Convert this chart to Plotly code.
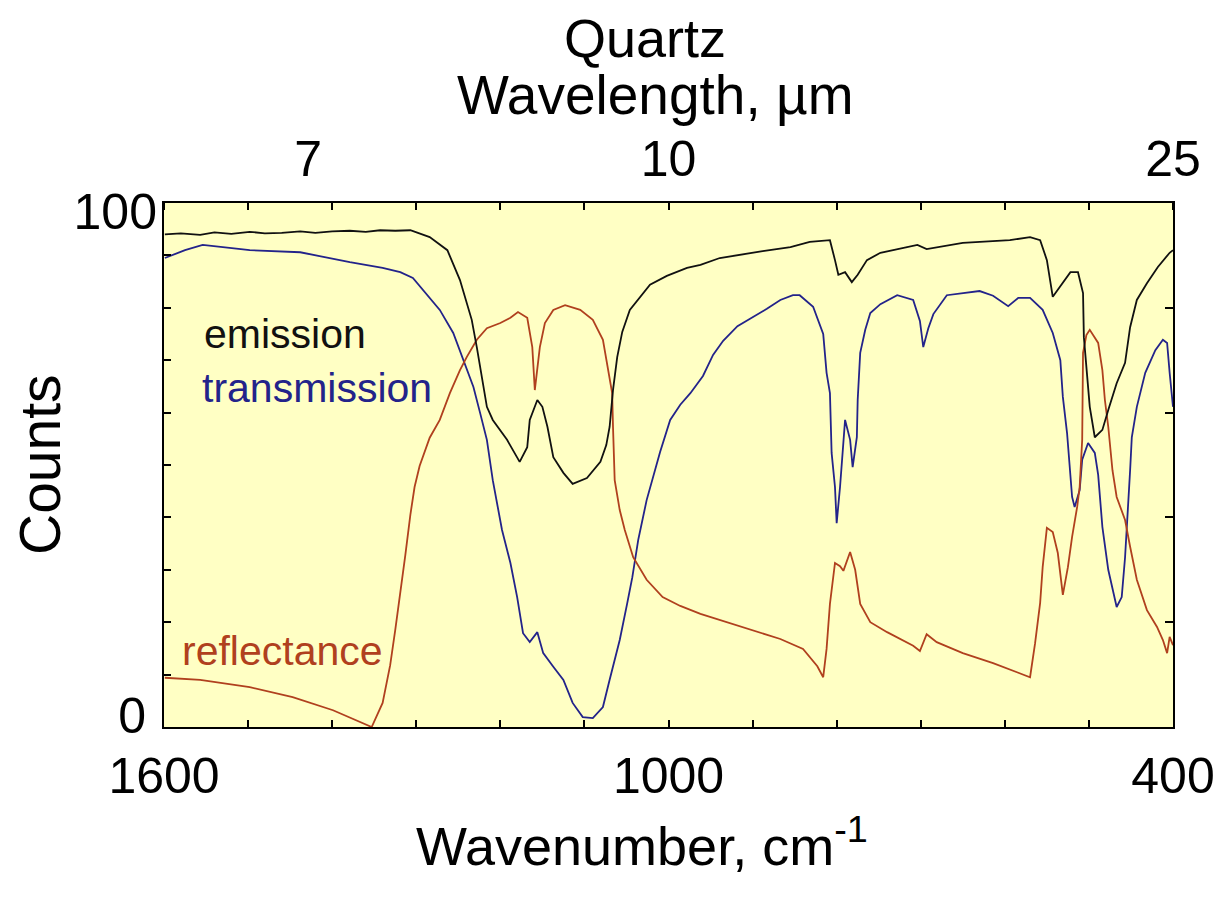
import plotly.graph_objects as go

# ---------------- data ----------------
wn_emission = [1599, 1580, 1557, 1540, 1520, 1498, 1480, 1460, 1438, 1420, 1400, 1379, 1360, 1343, 1325, 1307,
               1284, 1263, 1248, 1234, 1228, 1222, 1216, 1209, 1192, 1177, 1168, 1165, 1156, 1150, 1144, 1137,
               1125, 1114, 1097, 1081, 1074, 1070, 1066, 1061, 1055, 1046, 1034, 1022, 1002, 978, 962, 939,
               888, 855, 832, 808, 802, 798, 790, 782, 775, 764, 748, 728, 704, 693, 650, 594, 570, 558, 550,
               543, 531, 522, 513, 507, 506, 502, 499, 493, 484, 477, 467, 457, 451, 443, 431, 418, 404, 400]
emission = [94.0, 94.2, 93.9, 94.4, 94.1, 94.5, 94.2, 94.3, 94.6, 94.3, 94.6, 94.7, 94.5, 94.8, 94.7, 94.8,
            93.5, 91.0, 85.3, 77.7, 72.5, 66.6, 61.1, 58.6, 54.8, 50.6, 53.4, 58.6, 62.4, 61.1, 57.3, 51.5,
            48.5, 46.4, 47.5, 50.6, 53.8, 57.3, 64.3, 70.6, 75.4, 79.6, 82.1, 84.4, 86.1, 87.6, 88.2, 89.5,
            90.8, 91.6, 92.6, 92.9, 89.1, 86.3, 86.8, 84.9, 86.3, 89.1, 90.5, 91.2, 92.0, 91.2, 92.4, 92.9, 93.5, 92.9, 89.1,
            82.1, 84.9, 86.8, 86.8, 82.8, 74.4, 66.8, 61.1, 55.3, 56.7, 60.5, 65.6, 69.5, 76.3, 81.5, 84.7, 87.8, 90.5, 91.0]

wn_trans = [1599, 1575, 1554, 1522, 1498, 1438, 1379, 1340, 1319, 1304, 1272, 1256, 1244, 1232, 1224, 1216,
            1209, 1198, 1188, 1180, 1173, 1165, 1156, 1149, 1137, 1125, 1114, 1102, 1090, 1078, 1070, 1058,
            1049, 1043, 1036, 1026, 1010, 998, 986, 974, 959, 947, 935, 918, 903, 883, 867, 852, 844, 828,
            816, 812, 808, 806, 802, 800, 796, 794, 790, 784, 781, 776, 775, 772, 766, 760, 748, 728, 709,
            701, 697, 691, 685, 669, 650, 630, 614, 596, 584, 570, 555, 543, 534, 531, 526, 522, 520, 517,
            511, 508, 501, 493, 489, 484, 477, 467, 461, 457, 453, 451, 449, 443, 433, 421, 412, 407, 404, 400]
trans = [89.5, 91.0, 92.0, 91.4, 91.0, 90.6, 88.7, 87.6, 86.8, 85.7, 79.6, 75.2, 70.0, 64.9, 59.9, 54.8,
         47.1, 37.6, 31.3, 24.8, 17.9, 16.2, 18.1, 14.1, 11.5, 9.0, 4.6, 1.9, 1.7, 3.8, 9.0, 16.6,
         23.7, 28.6, 35.7, 43.3, 52.5, 58.6, 61.5, 63.7, 67.0, 71.0, 73.7, 76.5, 77.9, 79.8, 81.5, 82.4, 82.4, 80.2,
         75.0, 67.6, 63.7, 52.3, 45.8, 38.9, 45.8, 50.4, 58.6, 54.8, 49.6, 55.3, 62.4, 71.4, 75.8, 79.0, 80.7, 82.4, 81.5,
         77.5, 72.5, 76.1, 78.8, 82.4, 82.8, 83.2, 82.3, 80.3, 81.9, 81.9, 79.6, 75.2, 70.0, 63.0, 56.1, 49.0, 43.9, 42.0,
         45.2, 51.0, 54.2, 52.3, 48.1, 38.2, 30.0, 22.9, 24.8, 32.4, 42.7, 49.0, 55.3, 61.1, 67.6, 71.9, 73.9, 73.3, 67.6, 61.1]

wn_refl = [1599, 1557, 1498, 1447, 1399, 1367, 1353, 1340, 1331, 1325, 1319, 1313, 1307, 1302, 1296, 1284,
           1272, 1260, 1248, 1240, 1228, 1216, 1200, 1188, 1179, 1168, 1162, 1159, 1153, 1147, 1137, 1123,
           1105, 1090, 1078, 1072, 1067, 1066, 1064, 1058, 1052, 1042, 1026, 1007, 986, 962, 907, 867, 840,
           823, 816, 812, 808, 802, 796, 792, 784, 778, 772, 760, 740, 709, 701, 693, 681, 650, 614, 574,
           570, 564, 558, 555, 550, 543, 537, 531, 525, 520, 514, 511, 508, 507, 503, 499, 489, 484, 481,
           477, 472, 467, 457, 451, 443, 431, 419, 412, 407, 404, 400]
refl = [9.4, 9.0, 7.6, 5.7, 3.2, 1.0, 0.0, 4.6, 11.8, 18.5, 25.2, 32.8, 40.5, 45.8, 49.8, 55.2,
        58.6, 63.7, 68.1, 70.6, 73.9, 76.1, 77.1, 78.1, 79.2, 78.1, 72.5, 64.3, 72.5, 77.1, 79.6, 80.5,
        79.6, 77.7, 73.9, 68.7, 63.7, 57.3, 47.1, 41.4, 37.6, 32.4, 28.1, 24.8, 23.1, 21.6, 18.9, 16.8, 14.9,
        11.6, 9.5, 14.9, 23.5, 31.3, 30.7, 29.8, 33.4, 30.0, 23.5, 20.0, 18.1, 15.5, 14.5, 17.7, 16.2, 14.1, 12.2, 9.7,
        9.5, 16.0, 23.7, 30.5, 38.0, 37.2, 33.2, 25.2, 30.5, 36.3, 42.0, 45.8, 54.8, 71.4, 74.8, 75.8, 73.3, 68.1, 62.4,
        57.3, 49.0, 43.9, 39.5, 34.4, 28.1, 22.3, 19.1, 16.6, 14.1, 17.2, 15.6]

bottom_ticks = [1600, 1000, 400]
wavelength_ticks = [7, 10, 25]          # micrometres, top axis
y_low_label = 0
y_high_label = 100

# ---------------- styling ----------------
FONT = "Liberation Sans, Arial, sans-serif"
C_EM = "#111111"
C_TR = "#23238a"
C_RE = "#b0401e"
BG = "#FFFFC4"
TICKFONT = 50

fig = go.Figure()
# every trace sits on its own axis pair (all with identical ranges) so each axis is drawn
fig.add_trace(go.Scatter(x=wn_emission, y=emission, mode="lines", line=dict(color=C_EM, width=1.8),
                         name="emission", xaxis="x2", yaxis="y2"))
fig.add_trace(go.Scatter(x=wn_trans, y=trans, mode="lines", line=dict(color=C_TR, width=1.8),
                         name="transmission", xaxis="x", yaxis="y"))
fig.add_trace(go.Scatter(x=wn_refl, y=refl, mode="lines", line=dict(color=C_RE, width=1.8),
                         name="reflectance", xaxis="x", yaxis="y3"))

minor_x = list(range(400, 1601, 100))
minor_y = [10, 20, 30, 40, 50, 60, 70, 80, 90]
mid_y = [20, 40, 60, 80]

tick_style = dict(tickwidth=1.5, tickcolor="black")

fig.update_layout(
    width=1218, height=897,
    margin=dict(l=164, r=45, t=203, b=170, pad=0, autoexpand=False),
    paper_bgcolor="white", plot_bgcolor=BG,
    showlegend=False,
    font=dict(family=FONT, color="black"),
    xaxis=dict(range=[1600, 400], tickmode="array", tickvals=bottom_ticks,
               ticktext=[str(v) for v in bottom_ticks],
               ticks="inside", ticklen=7, **tick_style,
               minor=dict(tickmode="array", tickvals=minor_x, ticks="inside", ticklen=7, **tick_style),
               showline=True, linecolor="black", linewidth=2, mirror=True,
               showgrid=False, zeroline=False, automargin=False,
               tickfont=dict(size=TICKFONT, family=FONT), ticklabelstandoff=4),
    xaxis2=dict(range=[1600, 400], overlaying="x", side="top", anchor="y2",
                tickmode="array", tickvals=[1e4 / w for w in wavelength_ticks],
                ticktext=[str(w) for w in wavelength_ticks],
                ticks="",
                minor=dict(tickmode="array", tickvals=minor_x, ticks="inside", ticklen=7, **tick_style),
                showgrid=False, zeroline=False, showline=False, automargin=False,
                tickfont=dict(size=TICKFONT, family=FONT), ticklabelstandoff=16),
    yaxis=dict(range=[0, 100], tickmode="array", tickvals=[y_low_label],
               ticktext=[str(y_low_label)],
               ticks="inside", ticklen=9, **tick_style,
               minor=dict(tickmode="array", tickvals=minor_y, ticks="inside", ticklen=7, **tick_style),
               showline=True, linecolor="black", linewidth=2, mirror=True,
               showgrid=False, zeroline=False, automargin=False,
               tickfont=dict(size=TICKFONT, family=FONT), ticklabelstandoff=6, ticklabelshift=-12),
    yaxis3=dict(range=[0, 100], overlaying="y", side="left", anchor="x",
                tickmode="array", tickvals=[y_high_label], ticktext=[str(y_high_label)],
                ticks="inside", ticklen=9, **tick_style,
                showgrid=False, zeroline=False, showline=False, automargin=False,
                tickfont=dict(size=TICKFONT, family=FONT), ticklabelstandoff=6, ticklabelshift=8),
    yaxis2=dict(range=[0, 100], overlaying="y", side="right", anchor="x2",
                tickmode="array", tickvals=mid_y, showticklabels=False,
                ticks="inside", ticklen=8, **tick_style,
                showgrid=False, zeroline=False, showline=False, automargin=False),
)


def px_x(p):
    return (p - 164) / 1009.0


def px_y(p):
    return (727 - p) / 524.0


annots = [
    dict(text="Quartz", x=px_x(645), y=px_y(38), size=54),
    dict(text="Wavelength, µm", x=px_x(655), y=px_y(95), size=55),
    dict(text="Wavenumber, cm<sup>-1</sup>", x=px_x(642), y=px_y(842), size=54),
]
for a in annots:
    fig.add_annotation(text=a["text"], x=a["x"], y=a["y"], xref="paper", yref="paper",
                       showarrow=False, xanchor="center", yanchor="middle",
                       font=dict(size=a["size"], family=FONT, color="black"))

fig.add_annotation(text="Counts", x=px_x(40), y=px_y(465), xref="paper", yref="paper",
                   showarrow=False, textangle=-90, xanchor="center", yanchor="middle",
                   font=dict(size=57, family=FONT, color="black"))

labels = [("emission", C_EM, 202, 334), ("transmission", C_TR, 200, 388), ("reflectance", C_RE, 180, 651)]
for txt, col, lx, ly in labels:
    fig.add_annotation(text=txt, x=px_x(lx), y=px_y(ly), xref="paper", yref="paper",
                       showarrow=False, xanchor="left", yanchor="middle",
                       font=dict(size=41, family=FONT, color=col))

fig.write_html("out.html")
